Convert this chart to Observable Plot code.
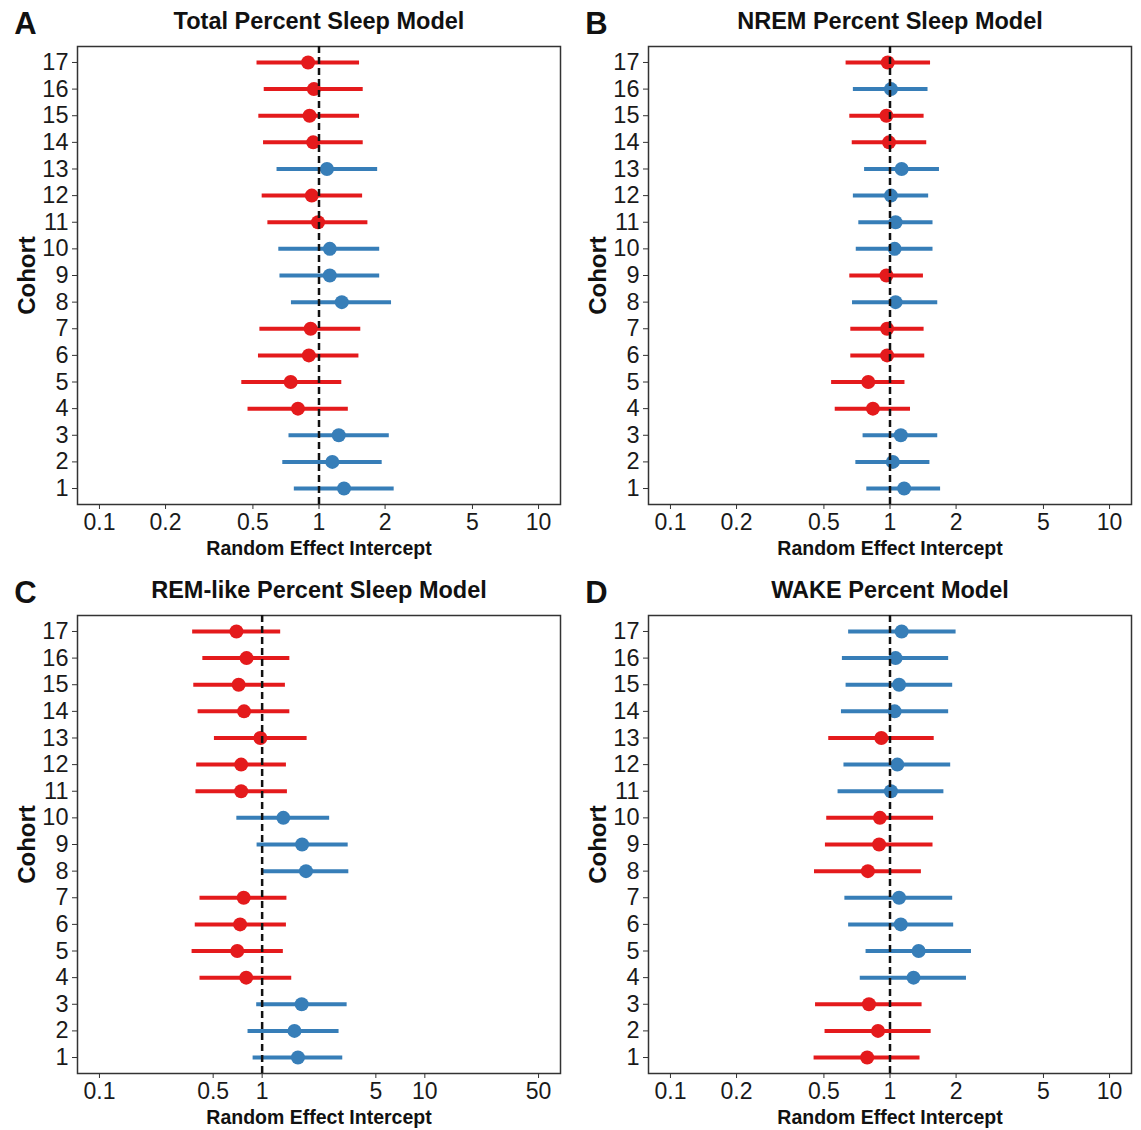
<!DOCTYPE html>
<html><head><meta charset="utf-8">
<script src="https://cdn.jsdelivr.net/npm/d3@7"></script>
<script src="https://cdn.jsdelivr.net/npm/@observablehq/plot@0.6"></script>
<style>
body{margin:0;background:#fff;}
#grid{position:relative;width:1141px;height:1130px;overflow:hidden;background:#fff;}
.panel{position:absolute;}
</style></head><body><div id="grid"></div>
<script>
const cohorts = [1,2,3,4,5,6,7,8,9,10,11,12,13,14,15,16,17];

const ticksA = [0.1,0.2,0.5,1,2,5,10];
const ticksC = [0.1,0.5,1,5,10,50];

// Panel A: Total Percent Sleep Model (cohort 1..17)
const estA = [1.30,1.15,1.23,0.802,0.743,0.899,0.916,1.27,1.12,1.12,0.99,0.927,1.087,0.941,0.906,0.948,0.892];
const loA  = [0.772,0.684,0.730,0.475,0.445,0.530,0.538,0.749,0.664,0.656,0.585,0.551,0.644,0.559,0.532,0.563,0.522];
const hiA  = [2.20,1.94,2.09,1.36,1.27,1.52,1.55,2.14,1.89,1.89,1.67,1.58,1.85,1.59,1.53,1.59,1.53];

// Panel B: NREM Percent Sleep Model
const estB = [1.16,1.03,1.12,0.836,0.796,0.97,0.97,1.06,0.963,1.05,1.06,1.01,1.13,0.99,0.963,1.01,0.977];
const loB  = [0.784,0.699,0.754,0.563,0.542,0.663,0.663,0.675,0.656,0.702,0.721,0.681,0.766,0.673,0.656,0.681,0.631];
const hiB  = [1.70,1.52,1.65,1.24,1.17,1.44,1.43,1.65,1.42,1.57,1.57,1.50,1.68,1.47,1.43,1.49,1.53];

// Panel C: REM-like Percent Sleep Model
const estC = [1.66,1.58,1.75,0.798,0.703,0.732,0.770,1.86,1.76,1.35,0.743,0.743,0.975,0.774,0.717,0.802,0.695];
const loC  = [0.880,0.819,0.926,0.415,0.371,0.388,0.415,1.01,0.931,0.699,0.392,0.396,0.509,0.404,0.380,0.432,0.374];
const hiC  = [3.13,2.97,3.33,1.52,1.35,1.41,1.42,3.41,3.38,2.60,1.43,1.41,1.89,1.48,1.39,1.48,1.30];

// Panel D: WAKE Percent Model
const estD = [0.787,0.882,0.802,1.28,1.35,1.12,1.10,0.793,0.892,0.899,1.01,1.08,0.913,1.05,1.10,1.06,1.13];
const loD  = [0.451,0.506,0.458,0.732,0.778,0.648,0.623,0.453,0.508,0.515,0.580,0.617,0.526,0.601,0.631,0.607,0.648];
const hiD  = [1.37,1.54,1.40,2.23,2.35,1.95,1.93,1.39,1.57,1.58,1.76,1.89,1.59,1.85,1.93,1.85,2.00];

const titles = ["Total Percent Sleep Model","NREM Percent Sleep Model","REM-like Percent Sleep Model","WAKE Percent Model"];
const letters = ["A","B","C","D"];

const RED = "#E41A1C", BLUE = "#377EB8";
const FONT = "'Liberation Sans', Arial, sans-serif";

function panel(title, letter, est, lo, hi, ticks) {
  const rows = cohorts.map((c,i)=>({cohort:c, est:est[i], lo:lo[i], hi:hi[i], dir: est[i] < 1 ? "below" : "above"}));
  const a = ticks[0], b = ticks[ticks.length-1];
  const pad = Math.log10(b/a)*0.05;
  const domain = [a/Math.pow(10,pad), b*Math.pow(10,pad)];
  return Plot.plot({
    width:570, height:565, marginLeft:77, marginRight:10, marginTop:46, marginBottom:61,
    style:{fontFamily:FONT, fontSize:"23px", color:"#222", background:"#fff", overflow:"visible"},
    x:{type:"log", domain},
    y:{domain:[0.4,17.6]},
    color:{domain:["below","above"], range:[RED, BLUE]},
    marks:[
      Plot.frame({stroke:"#333", strokeWidth:1.5}),
      Plot.axisX({ticks, text:d=>String(d), tickSize:5, tickPadding:4, label:null, fontSize:23, stroke:"#333", fill:"#1a1a1a"}),
      Plot.axisY({ticks:cohorts, text:d=>String(d), tickSize:5, tickPadding:4, label:null, fontSize:23.5, stroke:"#333", fill:"#1a1a1a"}),
      Plot.ruleY(rows, {y:"cohort", x1:"lo", x2:"hi", stroke:"dir", strokeWidth:4}),
      Plot.dot(rows, {x:"est", y:"cohort", r:7, fill:"dir", stroke:"none"}),
      Plot.ruleX([1], {stroke:"#111", strokeWidth:2.5, strokeDasharray:"7,4"}),
      Plot.text([title], {frameAnchor:"top", dy:-25, fontWeight:"bold", fontSize:23.5, lineAnchor:"middle", fill:"#111"}),
      Plot.text([letter], {frameAnchor:"top-left", dx:-52, dy:-22, textAnchor:"middle", lineAnchor:"middle", fontSize:31, fontWeight:"bold", fill:"#111"}),
      Plot.text(["Cohort"], {frameAnchor:"left", dx:-50, rotate:-90, textAnchor:"middle", lineAnchor:"middle", fontSize:24, fontWeight:"bold", fill:"#111"}),
      Plot.text(["Random Effect Intercept"], {frameAnchor:"bottom", dy:44, fontSize:19.5, fontWeight:"bold", lineAnchor:"middle", fill:"#111"})
    ]
  });
}

const specs = [
  [titles[0], letters[0], estA, loA, hiA, ticksA, 0, 0],
  [titles[1], letters[1], estB, loB, hiB, ticksA, 571, 0],
  [titles[2], letters[2], estC, loC, hiC, ticksC, 0, 569],
  [titles[3], letters[3], estD, loD, hiD, ticksA, 571, 569]
];
const grid = document.getElementById("grid");
for (const [t,l,e,lo,hi,tk,x,y] of specs) {
  const div = document.createElement("div");
  div.className = "panel";
  div.style.left = x + "px";
  div.style.top = y + "px";
  div.appendChild(panel(t,l,e,lo,hi,tk));
  grid.appendChild(div);
}
</script></body></html>
